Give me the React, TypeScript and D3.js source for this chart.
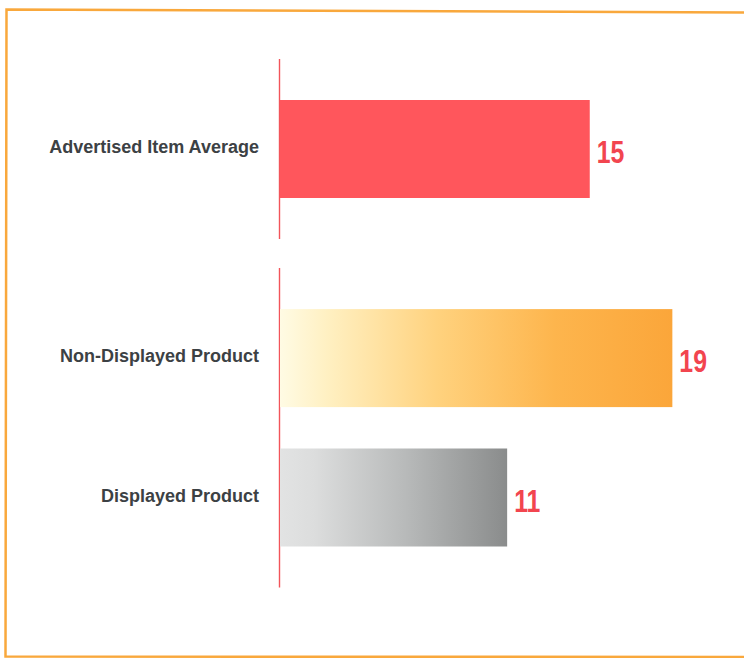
import React from "react";
import * as d3 from "d3";

const categories = ["Advertised Item Average", "Non-Displayed Product", "Displayed Product"];
const values = [15, 19, 11];
const slots = [0, 1.5, 2.5];
const fills = ["url(#gRed)", "url(#gOrange)", "url(#gGray)"];
const axisGroups = [[0, 0], [1.5, 2.5]];

const W = 744;
const H = 658;

export default function App() {
  const x = d3.scaleLinear().domain([0, 20]).range([280, 693]);
  const y = d3.scaleLinear().domain([0, 2.5]).range([149, 497.5]);
  const barH = 98;
  const half = 90;

  return (
    <svg
      width={W}
      height={H}
      style={{ position: "absolute", left: 0, top: 0, background: "#fff" }}
    >
      <defs>
        <linearGradient id="gRed" x1="0" x2="1" y1="0" y2="0">
          <stop offset="0" stopColor="#ff565c" />
          <stop offset="1" stopColor="#ff565c" />
        </linearGradient>
        <linearGradient id="gOrange" x1="0" x2="1" y1="0" y2="0">
          <stop offset="0" stopColor="#fffbe4" />
          <stop offset="0.12" stopColor="#fff0c2" />
          <stop offset="0.4" stopColor="#ffd27e" />
          <stop offset="0.7" stopColor="#fdb54d" />
          <stop offset="1" stopColor="#fba63a" />
        </linearGradient>
        <linearGradient id="gGray" x1="0" x2="1" y1="0" y2="0">
          <stop offset="0" stopColor="#e2e3e3" />
          <stop offset="0.15" stopColor="#dcdddd" />
          <stop offset="0.55" stopColor="#b8baba" />
          <stop offset="1" stopColor="#8a8c8c" />
        </linearGradient>
      </defs>

      {/* frame */}
      <path
        d={`M${W + 2},12.5 L6.5,9.5 L5.5,656.5 L${W + 2},657`}
        fill="none"
        stroke="#f9a83c"
        strokeWidth={2.5}
      />

      {/* axis lines */}
      {axisGroups.map((g, i) => (
        <line
          key={i}
          x1={x(0) - 0.5}
          x2={x(0) - 0.5}
          y1={y(g[0]) - half}
          y2={y(g[1]) + half}
          stroke="#f2545a"
          strokeWidth={1.4}
        />
      ))}

      {categories.map((c, i) => {
        const cy = y(slots[i]);
        const lx = x(values[i]) + 7;
        const ly = cy + 14;
        return (
          <g key={c}>
            <rect
              x={x(0)}
              y={cy - barH / 2}
              width={x(values[i]) - x(0)}
              height={barH}
              fill={fills[i]}
            />
            <text
              x={259}
              y={cy + 4}
              textAnchor="end"
              fontFamily="'Liberation Sans', Arial, sans-serif"
              fontWeight="bold"
              fontSize={18}
              fill="#3c4144"
            >
              {c}
            </text>
            <text
              transform={`translate(${lx},${ly}) scale(0.8,1)`}
              fontFamily="'Liberation Sans', Arial, sans-serif"
              fontWeight="bold"
              fontSize={31}
              fill="#f2454f"
            >
              {values[i]}
            </text>
          </g>
        );
      })}
    </svg>
  );
}
